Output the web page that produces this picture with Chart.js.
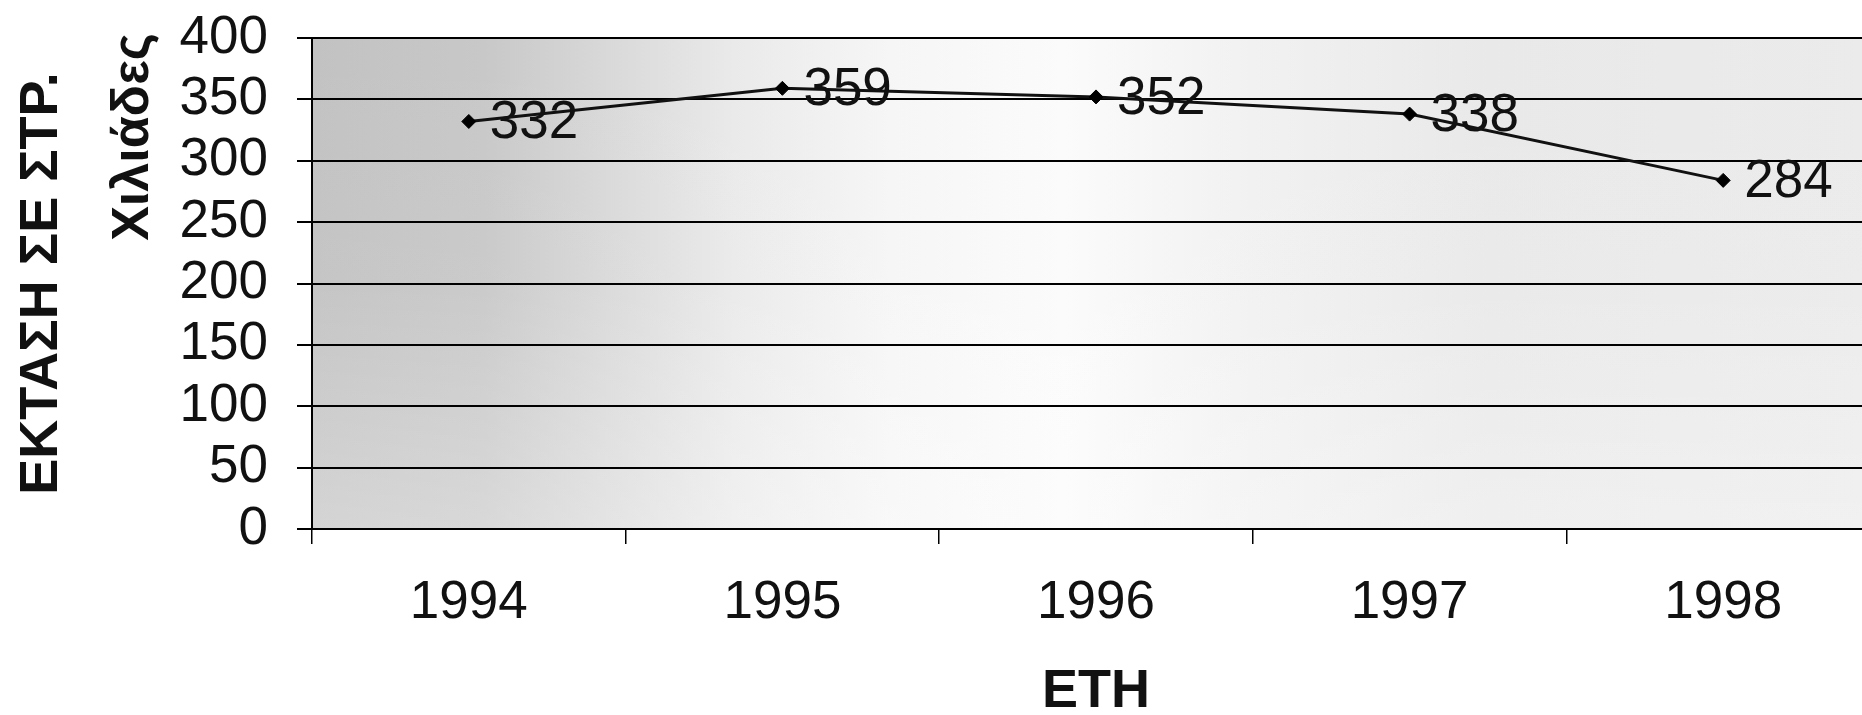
<!DOCTYPE html>
<html>
<head>
<meta charset="utf-8">
<title>ΕΚΤΑΣΗ ΣΕ ΣΤΡ.</title>
<script src="https://cdn.jsdelivr.net/npm/chart.js@4/dist/chart.umd.min.js"></script>
<style>
  html, body { margin: 0; padding: 0; background: #fff; width: 1862px; height: 715px; overflow: hidden; }
  #wrap { width: 1900px; height: 715px; position: relative; }
  canvas { display: block; }
</style>
</head>
<body>
<div id="wrap"><canvas id="chart" width="1900" height="715"></canvas></div>
<script>
// Years on the x axis
const years = ['1994', '1995', '1996', '1997', '1998'];
// Area in thousands of stremmata
const areaThousands = [332, 359, 352, 338, 284];
// Value axis range and step
const yMin = 0;
const yMax = 400;
const yStep = 50;
// Axis titles
const yTitle = 'ΕΚΤΑΣΗ ΣΕ ΣΤΡ.';
const yUnit = 'Χιλιάδες';
const xTitle = 'ΕΤΗ';

const FONT = "'Liberation Sans', Arial, Helvetica, sans-serif";

// Grey shaded plot background, darker on the left
const plotBackground = {
  id: 'plotBackground',
  beforeDraw(chart) {
    const { ctx, chartArea: a } = chart;
    ctx.save();
    const g = ctx.createLinearGradient(a.left, 0, a.right, 0);
    g.addColorStop(0.00, '#c2c2c2');
    g.addColorStop(0.11, '#c8c8c8');
    g.addColorStop(0.19, '#d9d9d9');
    g.addColorStop(0.27, '#eaeaea');
    g.addColorStop(0.37, '#f6f6f6');
    g.addColorStop(0.48, '#fbfbfb');
    g.addColorStop(0.60, '#f1f1f1');
    g.addColorStop(0.75, '#e9e9e9');
    g.addColorStop(1.00, '#ebebeb');
    ctx.fillStyle = g;
    ctx.fillRect(a.left, a.top, a.right - a.left, a.bottom - a.top);
    const v = ctx.createLinearGradient(0, a.top, 0, a.bottom);
    v.addColorStop(0, 'rgba(255,255,255,0)');
    v.addColorStop(0.5, 'rgba(255,255,255,0.05)');
    v.addColorStop(1, 'rgba(255,255,255,0.3)');
    ctx.fillStyle = v;
    ctx.fillRect(a.left, a.top, a.right - a.left, a.bottom - a.top);
    ctx.restore();
  }
};

// Value labels placed to the right of each point
const valueLabels = {
  id: 'valueLabels',
  afterDatasetsDraw(chart) {
    const { ctx } = chart;
    const meta = chart.getDatasetMeta(0);
    const data = chart.data.datasets[0].data;
    ctx.save();
    ctx.font = '53px ' + FONT;
    ctx.fillStyle = '#111';
    ctx.textAlign = 'left';
    ctx.textBaseline = 'middle';
    meta.data.forEach((pt, i) => {
      ctx.fillText(String(data[i]), pt.x + 21, pt.y + 2);
    });
    ctx.restore();
  }
};

// Unit caption beside the value axis
const unitCaption = {
  id: 'unitCaption',
  afterDraw(chart) {
    const { ctx } = chart;
    ctx.save();
    ctx.translate(134, 137);
    ctx.rotate(-Math.PI / 2);
    ctx.font = 'bold 52px ' + FONT;
    ctx.fillStyle = '#111';
    ctx.textAlign = 'center';
    ctx.textBaseline = 'middle';
    ctx.fillText(yUnit, 0, 0);
    ctx.restore();
  }
};

new Chart(document.getElementById('chart'), {
  type: 'line',
  data: {
    labels: years,
    datasets: [{
      data: areaThousands,
      borderColor: '#111',
      borderWidth: 3,
      backgroundColor: '#000',
      pointStyle: 'rectRot',
      pointRadius: 7,
      pointBackgroundColor: '#000',
      pointBorderColor: '#000',
      pointBorderWidth: 1,
      tension: 0,
      fill: false
    }]
  },
  options: {
    responsive: false,
    animation: false,
    events: [],
    layout: { padding: { top: 38, right: 20, bottom: 0, left: 0 } },
    plugins: {
      legend: { display: false },
      tooltip: { enabled: false },
      title: { display: false }
    },
    scales: {
      x: {
        type: 'category',
        offset: true,
        afterFit(scale) {
          scale.height = 186;
          scale.paddingLeft = 0;
          scale.paddingRight = 0;
        },
        grid: {
          display: true,
          offset: true,
          drawOnChartArea: false,
          drawTicks: true,
          tickLength: 15,
          color: '#000',
          lineWidth: 1.5
        },
        border: { display: true, color: '#000', width: 2 },
        ticks: {
          color: '#111',
          padding: 28,
          font: { family: FONT, size: 53 },
          maxRotation: 0,
          autoSkip: false
        },
        title: {
          display: true,
          text: xTitle,
          color: '#111',
          padding: 0,
          font: { family: FONT, size: 54, weight: 'bold', lineHeight: 0.85 }
        }
      },
      y: {
        min: yMin,
        max: yMax,
        afterFit(scale) {
          scale.width = 312;
          scale.paddingTop = 0;
          scale.paddingBottom = 0;
        },
        grid: {
          display: true,
          drawTicks: true,
          tickLength: 15,
          color: '#000',
          lineWidth: 2
        },
        border: { display: true, color: '#000', width: 2 },
        ticks: {
          stepSize: yStep,
          autoSkip: false,
          color: '#111',
          padding: 29,
          font: { family: FONT, size: 53 }
        },
        title: {
          display: true,
          text: yTitle,
          color: '#111',
          padding: { top: 10, bottom: 0 },
          font: { family: FONT, size: 54, weight: 'bold' }
        }
      }
    }
  },
  plugins: [plotBackground, valueLabels, unitCaption]
});
</script>
</body>
</html>
